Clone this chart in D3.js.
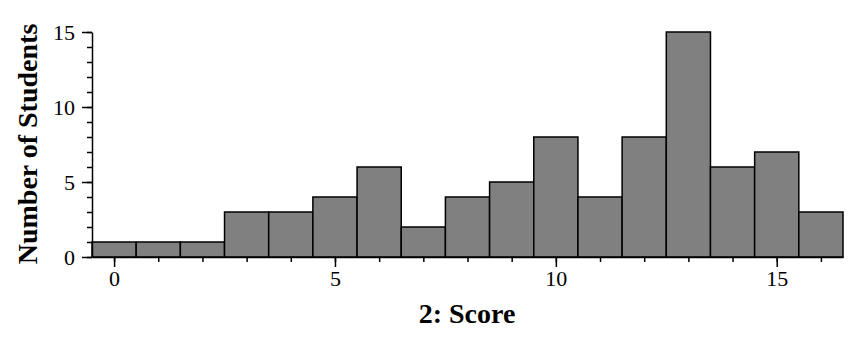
<!DOCTYPE html>
<html>
<head>
<meta charset="utf-8">
<script src="https://cdnjs.cloudflare.com/ajax/libs/d3/7.8.5/d3.min.js"></script>
<style>
  body { margin: 0; background: #fff; }
  .axis path, .axis line { stroke: #000; stroke-width: 1.5; }
</style>
</head>
<body>
<div class="chart"></div>
<script>
var svgWidth = 854;
var svgHeight = 340;

var margin = { top: 32, right: 11, bottom: 83, left: 92 };

var width = svgWidth - margin.left - margin.right;
var height = svgHeight - margin.top - margin.bottom;

var serif = "'Liberation Serif', 'Times New Roman', serif";

// histogram data: score bins and counts
var scores = [0, 1, 2, 3, 4, 5, 6, 7, 8, 9, 10, 11, 12, 13, 14, 15, 16];
var counts = [1, 1, 1, 3, 3, 4, 6, 2, 4, 5, 8, 4, 8, 15, 6, 7, 3];
var xTicks = [0, 5, 10, 15];
var yTicks = [0, 5, 10, 15];

var svg = d3.select(".chart")
    .append("svg")
    .attr("width", svgWidth)
    .attr("height", svgHeight);

var chartGroup = svg.append("g")
    .attr("transform", `translate(${margin.left}, ${margin.top})`);

var xScale = d3.scaleLinear()
    .domain([-0.5, 16.5])
    .range([0, width]);

var yScale = d3.scaleLinear()
    .domain([0, 15])
    .range([height, 0]);

// bars
chartGroup.selectAll("rect")
    .data(scores)
    .enter()
    .append("rect")
    .attr("x", d => xScale(d - 0.5))
    .attr("y", (d, i) => yScale(counts[i]))
    .attr("width", d => xScale(d + 0.5) - xScale(d - 0.5))
    .attr("height", (d, i) => yScale(0) - yScale(counts[i]))
    .attr("fill", "#808080")
    .attr("stroke", "#000")
    .attr("stroke-width", 1.5);

// minor ticks
chartGroup.append("g")
    .attr("class", "axis")
    .attr("transform", `translate(0, ${height})`)
    .call(d3.axisBottom(xScale).tickValues(scores).tickSize(5).tickFormat("").tickSizeOuter(0));

chartGroup.append("g")
    .attr("class", "axis")
    .call(d3.axisLeft(yScale).tickValues(d3.range(0, 16)).tickSize(5).tickFormat("").tickSizeOuter(0));

// major ticks with labels
chartGroup.append("g")
    .attr("class", "axis")
    .attr("transform", `translate(0, ${height})`)
    .attr("font-family", serif)
    .attr("font-size", 22)
    .call(d3.axisBottom(xScale).tickValues(xTicks).tickSize(10).tickPadding(3).tickSizeOuter(0))
    .call(g => g.select(".domain").remove())
    .attr("font-family", serif)
    .attr("font-size", 22);

chartGroup.append("g")
    .attr("class", "axis")
    .call(d3.axisLeft(yScale).tickValues(yTicks).tickSize(10).tickPadding(7).tickSizeOuter(0))
    .call(g => g.select(".domain").remove())
    .attr("font-family", serif)
    .attr("font-size", 22);

// axis titles
chartGroup.append("text")
    .attr("text-anchor", "middle")
    .attr("font-family", serif)
    .attr("font-weight", "bold")
    .attr("font-size", 28)
    .attr("x", 467 - margin.left)
    .attr("y", height + 66)
    .text("2: Score");

chartGroup.append("text")
    .attr("transform", "rotate(-90)")
    .attr("text-anchor", "middle")
    .attr("font-family", serif)
    .attr("font-weight", "bold")
    .attr("font-size", 28)
    .attr("x", -(144 - margin.top))
    .attr("y", 0 - margin.left + 37)
    .text("Number of Students");
</script>
</body>
</html>
